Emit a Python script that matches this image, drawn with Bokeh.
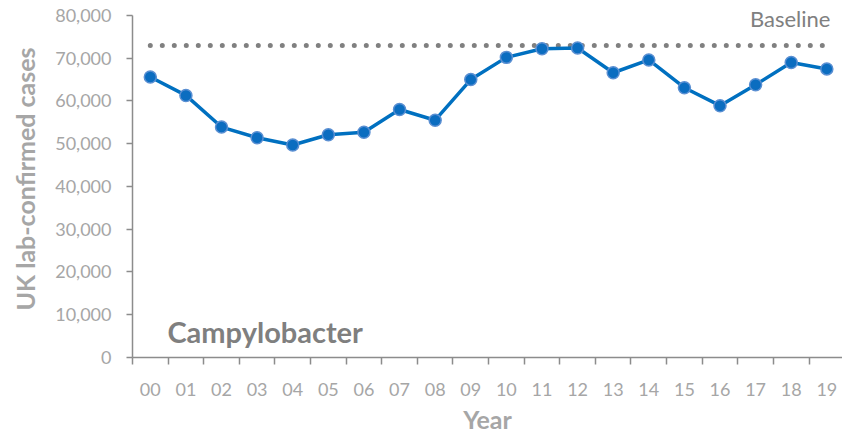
from bokeh.plotting import figure
from bokeh.models import ColumnDataSource, FixedTicker, NumeralTickFormatter, Label, Range1d
from bokeh.embed import file_html
from bokeh.resources import INLINE

years = ["00", "01", "02", "03", "04", "05", "06", "07", "08", "09",
         "10", "11", "12", "13", "14", "15", "16", "17", "18", "19"]
cases = [65600, 61300, 53900, 51400, 49700, 52100, 52700, 58000, 55500, 65000,
         70200, 72200, 72400, 66600, 69600, 63100, 58900, 63800, 69000, 67500]
baseline = 73000
y_ticks = [0, 10000, 20000, 30000, 40000, 50000, 60000, 70000, 80000]

FONT = "Lato"
x_pos = [i + 0.5 for i in range(len(years))]
src = ColumnDataSource(dict(x=x_pos, y=cases, year=years))

p = figure(width=842, height=436, output_backend="svg", toolbar_location=None,
           x_range=Range1d(0, 19.94), y_range=Range1d(0, 83500),
           min_border_left=132, min_border_right=0, min_border_top=0,
           min_border_bottom=78, background_fill_color="white")
p.outline_line_color = None
p.xgrid.visible = False
p.ygrid.visible = False

# baseline dotted line
p.line(x=[x_pos[0], x_pos[-1]], y=[baseline, baseline], line_color="#808080",
       line_width=5, line_dash="0 12", line_cap="round")

# series
p.line("x", "y", source=src, line_color="#0070C0", line_width=3.5)
p.scatter("x", "y", source=src, size=12, fill_color="#0B6DC0",
          line_color="#5A8FD2", line_width=1.5)

axis_col = "#8C8C8C"
lab_col = "#A6A6A6"

# x axis
xa = p.xaxis[0]
xa.ticker = FixedTicker(ticks=x_pos, minor_ticks=list(range(len(years) + 1)))
xa.major_label_overrides = {x: y for x, y in zip(x_pos, years)}
xa.major_tick_out = 0
xa.major_tick_in = 0
xa.minor_tick_out = 7
xa.minor_tick_in = 0
xa.minor_tick_line_color = axis_col
xa.axis_line_color = axis_col
xa.axis_line_width = 1.5
xa.minor_tick_line_width = 1.5
xa.major_label_text_font = FONT
xa.major_label_text_font_size = "18px"
xa.major_label_text_color = lab_col
xa.major_label_standoff = 18
xa.axis_label = "Year"
xa.axis_label_text_font = FONT
xa.axis_label_text_font_size = "25px"
xa.axis_label_text_font_style = "bold"
xa.axis_label_text_color = lab_col
xa.axis_label_standoff = 5

# y axis
ya = p.yaxis[0]
ya.ticker = FixedTicker(ticks=y_ticks)
ya.bounds = (y_ticks[0], y_ticks[-1])
ya.formatter = NumeralTickFormatter(format="0,0")
ya.major_tick_out = 6
ya.major_tick_in = 0
ya.minor_tick_out = 0
ya.minor_tick_in = 0
ya.major_tick_line_color = axis_col
ya.major_tick_line_width = 1.5
ya.axis_line_color = axis_col
ya.axis_line_width = 1.5
ya.major_label_text_font = FONT
ya.major_label_text_font_size = "18px"
ya.major_label_text_color = lab_col
ya.major_label_standoff = 15
ya.axis_label = "UK lab-confirmed cases"
ya.axis_label_text_font = FONT
ya.axis_label_text_font_size = "25px"
ya.axis_label_text_font_style = "bold"
ya.axis_label_text_color = lab_col
ya.axis_label_standoff = 12

p.add_layout(Label(x=19.6, y=79200, text="Baseline", text_align="right",
                   text_baseline="middle", text_font=FONT, text_font_size="22px",
                   text_color="#808080"))
p.add_layout(Label(x=0.98, y=6100, text="Campylobacter", text_align="left",
                   text_baseline="middle", text_font=FONT, text_font_size="29px",
                   text_font_style="bold", text_color="#7F7F7F"))

open("out.html", "w").write(file_html(p, INLINE))
